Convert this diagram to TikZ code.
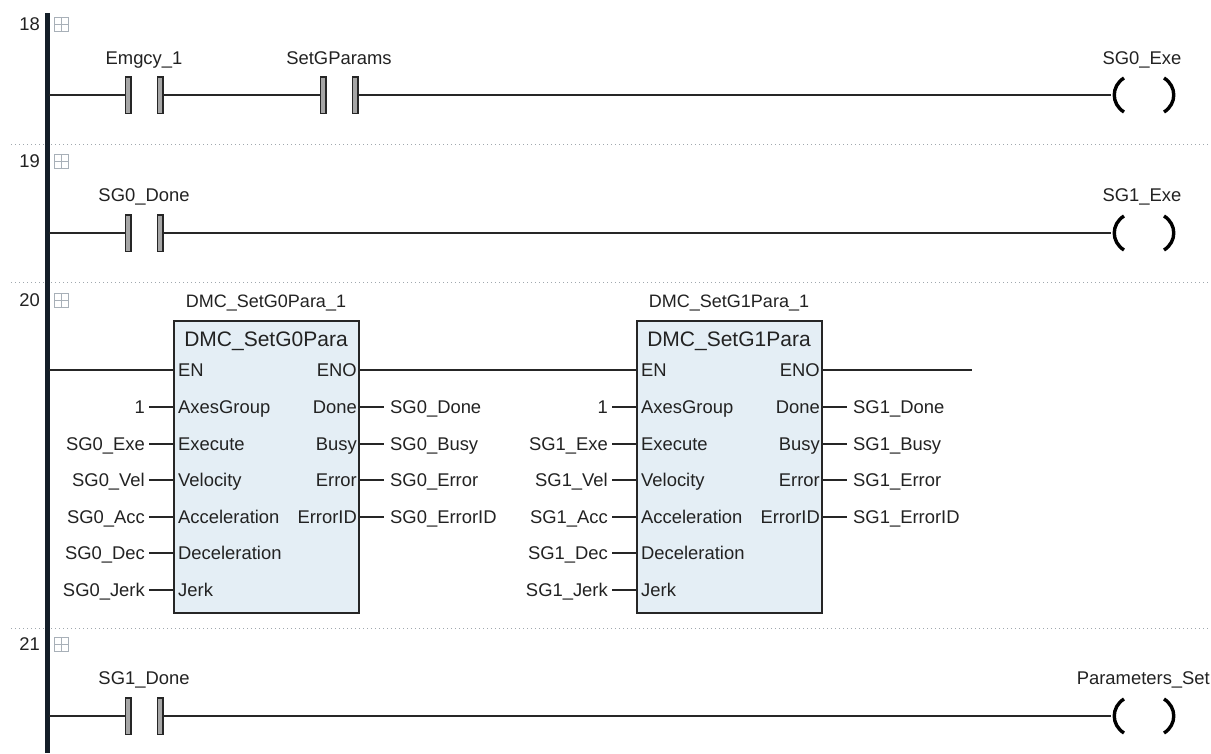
\documentclass[tikz,border=0pt]{standalone}
\usepackage{fontspec}
\setmainfont{Liberation Sans}
\definecolor{txt}{HTML}{222222}
\definecolor{wire}{HTML}{262626}
\definecolor{rail}{HTML}{141E28}
\definecolor{blockfill}{HTML}{E4EEF5}
\definecolor{barfill}{HTML}{A6A6A6}
\definecolor{sep}{HTML}{A0A8AE}
\definecolor{exp}{HTML}{A8B0B8}
\tikzset{
 lbl/.style={inner sep=0pt,text=txt,font=\fontsize{18.4}{20}\selectfont},
 num/.style={lbl,anchor=east},
 var/.style={lbl,anchor=base},
 varL/.style={lbl,anchor=base east},
 varR/.style={lbl,anchor=base west},
 pinL/.style={lbl,anchor=base west},
 pinR/.style={lbl,anchor=base east},
 ttl/.style={lbl,anchor=base,font=\fontsize{21}{22}\selectfont},
 wireln/.style={draw=wire,line width=1.5pt},
 barbox/.style={draw=wire,fill=barfill,line width=1.5pt,minimum width=5.5pt,minimum height=36.5pt,inner sep=0pt},
 fbbox/.style={draw=wire,fill=blockfill,line width=1.5pt,minimum width=185pt,minimum height=292pt,inner sep=0pt},
 sepln/.style={draw=sep,line width=1pt,dash pattern=on 1pt off 3pt},
 paren/.style={draw=black,line width=3.4pt},
 expbox/.style={draw=exp,line width=1.2pt,minimum size=14pt,inner sep=0pt,
   path picture={\draw[exp,line width=1.2pt] (path picture bounding box.north) -- (path picture bounding box.south)
     (path picture bounding box.west) -- (path picture bounding box.east);}},
}
% contact: prefix, left bar x, y
\newcommand{\mycontact}[3]{%
 \node[barbox] (#1a) at (#2,#3) {};
 \node[barbox] (#1b) at (#2+32,#3) {};}
% coil: name, y
\newcommand{\mycoil}[2]{%
 \coordinate (#1) at (1111,#2);
 \draw[paren] (1124,#2-17) .. controls (1111,#2-9) and (1111,#2+9) .. (1124,#2+17);
 \draw[paren] (1164,#2-17) .. controls (1177,#2-9) and (1177,#2+9) .. (1164,#2+17);}
% input pin: prefix, block left x, y, pin text, variable text
\newcommand{\pinin}[5]{%
 \coordinate (#1p) at (#2,#3);
 \coordinate (#1w) at (#2-25,#3);
 \draw[wireln] (#1w) -- (#1p);
 \node[pinL] at (#2+4,#3+6) {#4};
 \node[varL] at (#2-29,#3+6) {#5};}
\newcommand{\pinout}[5]{%
 \coordinate (#1p) at (#2,#3);
 \coordinate (#1w) at (#2+25,#3);
 \draw[wireln] (#1p) -- (#1w);
 \node[pinR] at (#2-2,#3+6) {#4};
 \node[varR] at (#2+31,#3+6) {#5};}
\begin{document}
\begin{tikzpicture}[x=1pt,y=-1pt]
\useasboundingbox (0,0) rectangle (1211,753);
\fill[white] (0,0) rectangle (1211,753);
% separators
\foreach \yy in {144,282,628} \draw[sepln] (11,\yy) -- (1211,\yy);
% power rail
\coordinate (railtop) at (47,13);
\coordinate (railbot) at (47,753);
\draw[rail,line width=5pt] (railtop) -- (railbot);
% rung numbers
\node[num] (n18) at (40,24) {18};
\node[num] (n19) at (40,161) {19};
\node[num] (n20) at (40,300) {20};
\node[num] (n21) at (40,644) {21};
\node[expbox] (e18) at (61.5,24.5) {};
\node[expbox] (e19) at (61.5,161.5) {};
\node[expbox] (e20) at (61.5,300.5) {};
\node[expbox] (e21) at (61.5,644.5) {};
% rung 18
\coordinate (r18) at (49,95);
\mycontact{c1}{128}{95}
\mycontact{c2}{323}{95}
\mycoil{q1}{95}
\draw[wireln] (r18) -- (c1a.west);
\draw[wireln] (c1b.east) -- (c2a.west);
\draw[wireln] (c2b.east) -- (q1);
\node[var] at (144,64) {Emgcy\_1};
\node[var] at (339,64) {SetGParams};
\node[var] at (1142,64) {SG0\_Exe};
% rung 19
\coordinate (r19) at (49,233);
\mycontact{c3}{128}{233}
\mycoil{q2}{233}
\draw[wireln] (r19) -- (c3a.west);
\draw[wireln] (c3b.east) -- (q2);
\node[var] at (144,201) {SG0\_Done};
\node[var] at (1142,201) {SG1\_Exe};
% rung 20
\coordinate (r20) at (49,370);
\coordinate (endw) at (972,370);
\node[fbbox] (f0) at (266.5,467) {};
\node[fbbox] (f1) at (729.5,467) {};
\draw[wireln] (r20) -- (f0.west |- r20);
\draw[wireln] (f0.east |- r20) -- (f1.west |- r20);
\draw[wireln] (f1.east |- r20) -- (endw);
\node[var,font=\fontsize{18}{20}\selectfont] at (266,307) {DMC\_SetG0Para\_1};
\node[var,font=\fontsize{18}{20}\selectfont] at (729,307) {DMC\_SetG1Para\_1};
\node[ttl] at (266,346) {DMC\_SetG0Para};
\node[ttl] at (729,346) {DMC\_SetG1Para};
\node[pinL] at (178,376) {EN};
\node[pinL] at (641,376) {EN};
\node[pinR] at (357,376) {ENO};
\node[pinR] at (820,376) {ENO};
\pinin{a1}{174}{407}{AxesGroup}{1}
\pinin{a2}{174}{444}{Execute}{SG0\_Exe}
\pinin{a3}{174}{480}{Velocity}{SG0\_Vel}
\pinin{a4}{174}{517}{Acceleration}{SG0\_Acc}
\pinin{a5}{174}{553}{Deceleration}{SG0\_Dec}
\pinin{a6}{174}{590}{Jerk}{SG0\_Jerk}
\pinout{o1}{359}{407}{Done}{SG0\_Done}
\pinout{o2}{359}{444}{Busy}{SG0\_Busy}
\pinout{o3}{359}{480}{Error}{SG0\_Error}
\pinout{o4}{359}{517}{ErrorID}{SG0\_ErrorID}
\pinin{b1}{637}{407}{AxesGroup}{1}
\pinin{b2}{637}{444}{Execute}{SG1\_Exe}
\pinin{b3}{637}{480}{Velocity}{SG1\_Vel}
\pinin{b4}{637}{517}{Acceleration}{SG1\_Acc}
\pinin{b5}{637}{553}{Deceleration}{SG1\_Dec}
\pinin{b6}{637}{590}{Jerk}{SG1\_Jerk}
\pinout{p1}{822}{407}{Done}{SG1\_Done}
\pinout{p2}{822}{444}{Busy}{SG1\_Busy}
\pinout{p3}{822}{480}{Error}{SG1\_Error}
\pinout{p4}{822}{517}{ErrorID}{SG1\_ErrorID}
% rung 21
\coordinate (r21) at (49,716);
\mycontact{c4}{128}{716}
\mycoil{q3}{716}
\draw[wireln] (r21) -- (c4a.west);
\draw[wireln] (c4b.east) -- (q3);
\node[var] at (144,684) {SG1\_Done};
\node[lbl,anchor=base east] at (1210,684) {Parameters\_Set};
\end{tikzpicture}
\end{document}
